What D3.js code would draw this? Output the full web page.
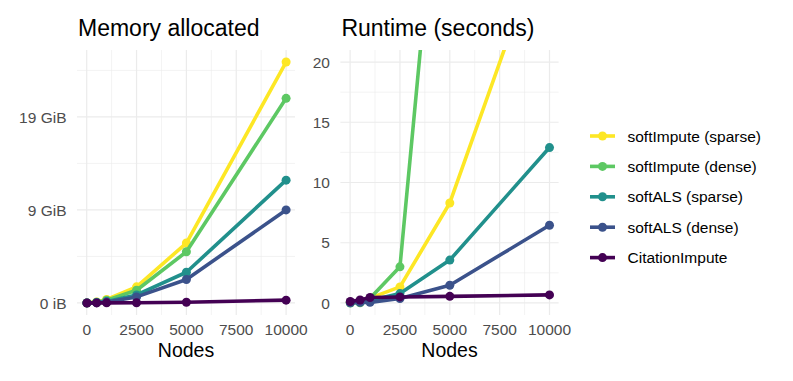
<!DOCTYPE html>
<html>
<head>
<meta charset="utf-8">
<script src="https://cdn.jsdelivr.net/npm/d3@7"></script>
<style>
  body { margin: 0; background: #fff; }
  text { font-family: "Liberation Sans", Arial, sans-serif; }
</style>
</head>
<body>
<svg id="chart" width="793" height="381"></svg>
<script>
// node counts (x)
const nodes = [10, 500, 1000, 2500, 5000, 10000]

// memory allocated, in 1e9 bytes
const memSparseImpute = [0.005, 0.1, 0.37, 1.73, 6.44, 25.9]
const memDenseImpute = [0.005, 0.08, 0.3, 1.37, 5.5, 22.0]
const memSparseALS = [0.003, 0.04, 0.15, 0.86, 3.3, 13.2]
const memDenseALS = [0.002, 0.03, 0.1, 0.65, 2.52, 10.0]
const memCitation = [0.0, 0.005, 0.01, 0.02, 0.08, 0.3]

// runtime in seconds
const rtSparseImpute = [0.05, 0.1, 0.4, 1.33, 8.3, 31.6]
const rtDenseImpute = [0.0, 0.02, 0.4, 3.0, 47, 180]
const rtSparseALS = [0.05, 0.1, 0.2, 0.78, 3.56, 12.9]
const rtDenseALS = [0.02, 0.05, 0.05, 0.37, 1.47, 6.45]
const rtCitation = [0.12, 0.25, 0.45, 0.5, 0.55, 0.67]

const methods = ['softImpute (sparse)', 'softImpute (dense)', 'softALS (sparse)', 'softALS (dense)', 'CitationImpute']
const colors = ['#FDE725', '#5DC863', '#21908C', '#3B528B', '#440154']

const xTicks = [0, 2500, 5000, 7500, 10000]
const xMinor = [1250, 3750, 6250, 8750]
const memTicks = [0, 10, 20]
const memTickLabels = ['0 iB', '9 GiB', '19 GiB']
const memMinor = [5, 15, 25]
const rtTicks = [0, 5, 10, 15, 20]
const rtMinor = [2.5, 7.5, 12.5, 17.5]

const svg = d3.select('#chart')
const plotTop = 50, plotBottom = 315

const panel = (opts) => {
    const x = d3.scaleLinear()
        .domain([nodes[0], 10000])
        .range([opts.left + 9.9, opts.left + 9.9 + (10000 - nodes[0]) * 0.01994])
    const x0 = x.invert(opts.left), x1 = x.invert(opts.right)
    x.domain([x0, x1]).range([opts.left, opts.right])
    const y = d3.scaleLinear().domain(opts.yDomain).range([plotBottom, plotTop])

    const g = svg.append('g')
    const clipId = 'clip' + opts.id
    g.append('clipPath').attr('id', clipId)
        .append('rect')
        .attr('x', opts.left).attr('y', plotTop)
        .attr('width', opts.right - opts.left).attr('height', plotBottom - plotTop)

    // grid
    g.selectAll('.xminor').data(xMinor).enter().append('line')
        .attr('x1', d => x(d)).attr('x2', d => x(d))
        .attr('y1', plotTop).attr('y2', plotBottom)
        .attr('stroke', '#EBEBEB').attr('stroke-width', 0.6)
    g.selectAll('.yminor').data(opts.minor.filter(d => y(d) >= plotTop)).enter().append('line')
        .attr('x1', opts.left).attr('x2', opts.right)
        .attr('y1', d => y(d)).attr('y2', d => y(d))
        .attr('stroke', '#EBEBEB').attr('stroke-width', 0.6)
    g.selectAll('.xmajor').data(xTicks).enter().append('line')
        .attr('x1', d => x(d)).attr('x2', d => x(d))
        .attr('y1', plotTop).attr('y2', plotBottom)
        .attr('stroke', '#EBEBEB').attr('stroke-width', 1.2)
    g.selectAll('.ymajor').data(opts.ticks).enter().append('line')
        .attr('x1', opts.left).attr('x2', opts.right)
        .attr('y1', d => y(d)).attr('y2', d => y(d))
        .attr('stroke', '#EBEBEB').attr('stroke-width', 1.2)

    // tick labels
    g.selectAll('.xlab').data(xTicks).enter().append('text')
        .attr('x', d => x(d)).attr('y', 335)
        .attr('text-anchor', 'middle')
        .attr('font-size', '15.5px').attr('fill', '#4D4D4D')
        .text(d => d)
    g.selectAll('.ylab').data(opts.ticks).enter().append('text')
        .attr('x', opts.left - 10.5).attr('y', d => y(d))
        .attr('dy', '0.36em')
        .attr('text-anchor', 'end')
        .attr('font-size', '15.5px').attr('fill', '#4D4D4D')
        .text((d, i) => opts.labels[i])

    // titles
    g.append('text')
        .attr('x', (opts.left + opts.right) / 2).attr('y', 357)
        .attr('text-anchor', 'middle')
        .attr('font-size', '19.5px').attr('fill', '#000')
        .text('Nodes')
    g.append('text')
        .attr('x', opts.left + 1).attr('y', 36)
        .attr('font-size', '23px').attr('fill', '#000')
        .text(opts.title)

    const line = d3.line().x(d => x(d[0])).y(d => y(d[1]))
    const plot = g.append('g').attr('clip-path', `url(#${clipId})`)
    opts.series.forEach((vals, i) => {
        const pts = nodes.map((n, j) => [n, vals[j]])
        plot.append('path')
            .attr('d', line(pts))
            .attr('fill', 'none')
            .attr('stroke', colors[i])
            .attr('stroke-width', 3.6)
            .attr('stroke-linejoin', 'round')
        plot.selectAll(null).data(pts).enter().append('circle')
            .attr('cx', d => x(d[0])).attr('cy', d => y(d[1]))
            .attr('r', 4.5)
            .attr('fill', colors[i])
    })
}

const memMax = d3.max(memSparseImpute)
panel({
    id: 'mem', left: 77, right: 295,
    yDomain: [-0.05 * memMax, 1.05 * memMax],
    ticks: memTicks, labels: memTickLabels, minor: memMinor,
    title: 'Memory allocated',
    series: [memSparseImpute, memDenseImpute, memSparseALS, memDenseALS, memCitation]
})
panel({
    id: 'rt', left: 340.4, right: 558.6,
    yDomain: [-1, 21],
    ticks: rtTicks, labels: rtTicks.map(String), minor: rtMinor,
    title: 'Runtime (seconds)',
    series: [rtSparseImpute, rtDenseImpute, rtSparseALS, rtDenseALS, rtCitation]
})

// legend
const legend = svg.append('g')
methods.forEach((m, i) => {
    const cy = 136 + i * 30.4
    legend.append('line')
        .attr('x1', 590).attr('x2', 615)
        .attr('y1', cy).attr('y2', cy)
        .attr('stroke', colors[i]).attr('stroke-width', 3.6)
    legend.append('circle')
        .attr('cx', 602.5).attr('cy', cy).attr('r', 4.5)
        .attr('fill', colors[i])
    legend.append('text')
        .attr('x', 627.5).attr('y', cy).attr('dy', '0.36em')
        .attr('font-size', '15.5px').attr('fill', '#000')
        .text(m)
})
</script>
</body>
</html>
